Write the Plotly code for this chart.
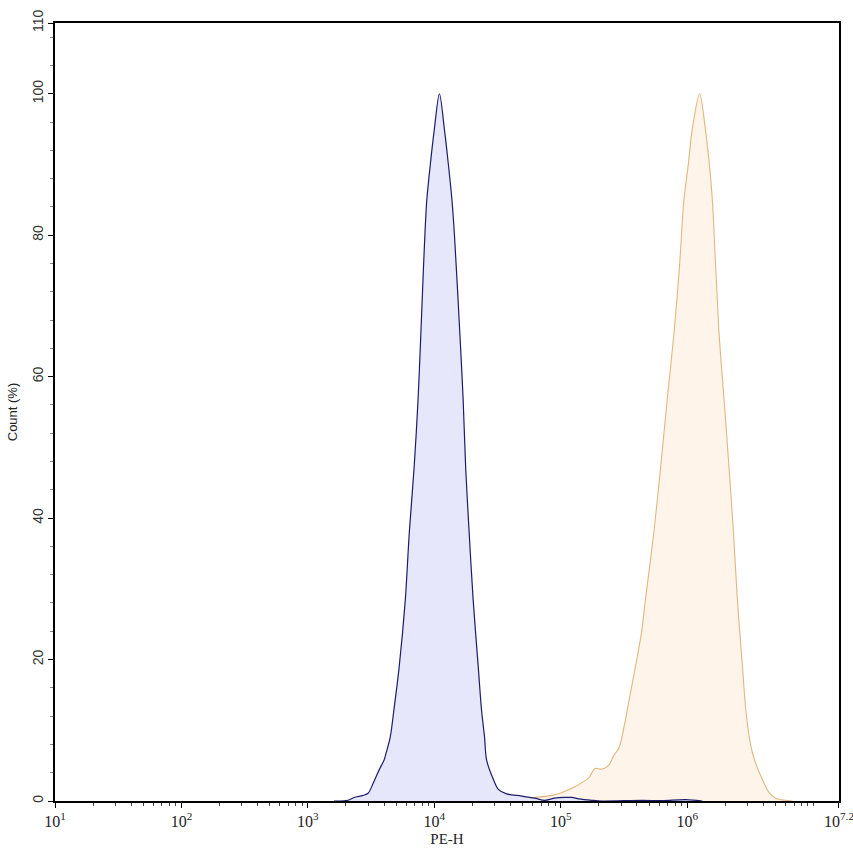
import plotly.graph_objects as go

# ---- data (PE-H intensity, Count %) ----
blue_x = [1607, 2075, 2317, 2733, 2995, 3281, 3659, 4006, 4155, 4474, 4790, 5272, 5888,
          6339, 6908, 7430, 7816, 8185, 8414, 8718, 9290, 10000, 10965, 12000, 12910, 13770,
          14420, 15920, 16900, 17700, 18840, 20280, 22230, 23600, 24950, 25880, 29380,
          32210, 37240, 48980, 62200, 74650, 89590, 107600, 122200, 139000, 176200,
          211300, 439500, 633400, 964000, 1315000]
blue_y = [0, 0.1, 0.5, 0.8, 1.1, 2.5, 4.4, 5.8, 6.8, 9, 12.9, 19, 28.4,
          38, 47, 56.7, 66, 75, 80, 85, 90, 95, 100, 95, 90, 85,
          80, 66, 56.7, 47, 38, 28.4, 19, 12.9, 9, 5.8, 3,
          1.6, 1.0, 0.7, 0.4, 0.1, 0.4, 0.5, 0.5, 0.3, 0.1,
          0, 0.1, 0.05, 0.2, 0]

orange_x = [34040, 62200, 84900, 101900, 129200, 146800, 166800, 186200, 204200, 219400,
            240400, 263600, 288500, 316200, 340400, 389000, 433600, 466600, 544300,
            614300, 693500, 783600, 868300, 941100, 1019000, 1096000, 1253000, 1390000,
            1496000, 1579000, 1678000, 1786000, 1956000, 2142000, 2318000, 2493000,
            2733000, 2904000, 3162000, 3404000, 3938000, 4476000, 4993000, 5888000, 6808000]
orange_y = [0, 0.5, 0.8, 1.2, 2.0, 2.6, 3.3, 4.6, 4.5, 4.6,
            5.1, 6.5, 7.5, 10.5, 13.5, 19, 23.7, 28.4, 38,
            47, 56.7, 66, 75.6, 85, 90, 95, 100, 95,
            90, 85, 75.6, 66, 56.7, 47, 38, 28.4,
            19, 12.9, 8, 5.8, 3, 1.1, 0.4, 0.1, 0]

x_tick_vals = [1e1, 1e2, 1e3, 1e4, 1e5, 1e6, 10 ** 7.1999]
x_tick_text = ["10<sup>1</sup>", "10<sup>2</sup>", "10<sup>3</sup>", "10<sup>4</sup>",
               "10<sup>5</sup>", "10<sup>6</sup>", "10<sup>7.2</sup>"]
y_tick_vals = [0, 20, 40, 60, 80, 100, 110]
y_tick_text = ["0", "20", "40", "60", "80", "100", "110"]

x_minor = [k * 10 ** n for n in range(1, 7) for k in range(2, 10)] + [1e7]
y_minor = [v for v in range(4, 110, 4)]

fig = go.Figure()
fig.add_trace(go.Scatter(x=orange_x, y=orange_y, mode="lines", fill="tozeroy",
                         line=dict(color="#e2b67e", width=1.1, shape="spline", smoothing=0.9),
                         fillcolor="#fff4ea", showlegend=False, hoverinfo="skip"))
fig.add_trace(go.Scatter(x=blue_x, y=blue_y, mode="lines", fill="tozeroy",
                         line=dict(color="#1c1c6b", width=1.2, shape="spline", smoothing=0.9),
                         fillcolor="#e6e7fb", showlegend=False, hoverinfo="skip"))

fig.update_layout(
    width=853, height=856,
    margin=dict(l=55, r=14, t=23, b=55, autoexpand=False),
    paper_bgcolor="white", plot_bgcolor="white",
    xaxis=dict(type="log", range=[1, 7.2], tickmode="array", tickvals=x_tick_vals,
               ticktext=x_tick_text, ticks="outside", ticklen=5, tickcolor="black",
               showline=True, linecolor="black", linewidth=1.5, mirror=True,
               showgrid=False, zeroline=False, automargin=False, ticklabeloverflow="allow",
               tickfont=dict(family="Liberation Serif", size=16, color="#222"),
               minor=dict(tickvals=x_minor, ticks="outside", ticklen=3, tickcolor="#444", showgrid=False),
               title=dict(text="PE-H", font=dict(family="Liberation Serif", size=15, color="#222"), standoff=5)),
    yaxis=dict(range=[0, 110], tickmode="array", tickvals=y_tick_vals, ticktext=y_tick_text,
               ticks="outside", ticklen=5, tickcolor="black", tickangle=-90,
               showline=True, linecolor="black", linewidth=1.5, mirror=True,
               showgrid=False, zeroline=False, automargin=False, ticklabeloverflow="allow",
               tickfont=dict(family="Liberation Sans", size=14, color="#333"),
               minor=dict(tickvals=y_minor, ticks="outside", ticklen=3, tickcolor="#888", showgrid=False),
               title=dict(text="Count (%)", font=dict(family="Liberation Sans", size=13, color="#222"), standoff=9)),
)

fig.write_html("out.html", config={"displayModeBar": False},
               post_script="document.body.style.margin='0';document.body.style.overflow='hidden';")
